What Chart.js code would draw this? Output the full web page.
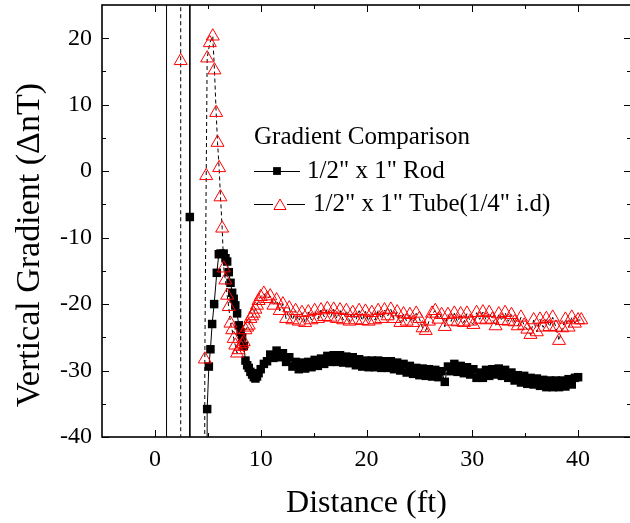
<!DOCTYPE html>
<html><head><meta charset="utf-8">
<script src="https://cdn.jsdelivr.net/npm/chart.js@4/dist/chart.umd.min.js"></script>
<style>
html,body{margin:0;padding:0;background:#fff;overflow:hidden;width:630px;height:523px}
#wrap{position:relative;width:640px;height:523px}
</style>
</head><body><div id="wrap"><canvas id="c" width="640" height="523"></canvas></div>
<script>
// ---- data ----
const legendTitle = 'Gradient Comparison';
const rodLabel = '1/2" x 1" Rod';
const tubeLabel = '1/2" x 1" Tube(1/4" i.d)';

const rodHeadDistance = [1.1, 1.1, 3.3, 3.3, 3.3, 4.9, 4.94, 5.1, 5.25, 5.41, 5.6, 5.85, 6.04, 6.2, 6.5, 6.67, 6.83, 6.98, 7.15, 7.3, 7.45, 7.6, 7.77, 7.93, 8.1, 8.24, 8.4, 8.56, 8.72, 8.87, 9.03, 9.19, 9.35, 9.5, 9.65, 9.8];
const rodHeadGradient = [-150, 150, 150, -6.9, -150, -150, -35.8, -29.4, -26.8, -23.0, -20.0, -15.3, -12.5, -12.4, -12.4, -13.1, -13.6, -15.2, -16.8, -18.3, -19.2, -20.2, -21.4, -23.2, -24.2, -25.0, -26.3, -28.5, -29.2, -29.6, -30.2, -30.6, -31.0, -31.2, -30.9, -30.4];

const tubeHeadDistance = [2.44, 2.44, 2.44, 4.62, 4.72, 4.85, 4.94, 5.19, 5.47, 5.63, 5.79, 5.92, 6.07, 6.2, 6.36, 6.51, 6.66, 6.83, 6.98, 7.14, 7.3, 7.45, 7.6, 7.77, 7.9, 8.1, 8.25, 8.4, 8.56, 8.72, 8.87, 9.03, 9.19, 9.34, 9.5, 9.65, 9.8];
const tubeHeadGradient = [150, 16.6, -150, -150, -28.3, -0.7, 17.0, 19.3, 20.3, 15.2, 8.8, 4.3, 0.5, -3.9, -8.6, -14.6, -16.4, -18.7, -20.4, -22.9, -23.9, -25.2, -26.2, -27.4, -26.9, -26.4, -26.0, -25.7, -23.9, -23.5, -23.2, -22.2, -21.8, -21.4, -20.8, -20.2, -19.5];

const tailDistance = [
 10.0,10.3,10.6,10.9,11.2,11.5,11.8,12.1,12.4,12.7,
 13.0,13.3,13.6,13.9,14.2,14.5,14.8,15.1,15.4,15.7,
 16.0,16.3,16.6,16.9,17.2,17.5,17.8,18.1,18.4,18.7,
 19.0,19.3,19.6,19.9,20.2,20.5,20.8,21.1,21.4,21.7,
 22.0,22.3,22.6,22.9,23.2,23.5,23.8,24.1,24.4,24.7,
 25.0,25.3,25.6,25.9,26.2,26.5,26.8,27.1,27.4,27.7,
 28.0,28.3,28.6,28.9,29.2,29.5,29.8,30.1,30.4,30.7,
 31.0,31.3,31.6,31.9,32.2,32.5,32.8,33.1,33.4,33.7,
 34.0,34.3,34.6,34.9,35.2,35.5,35.8,36.1,36.4,36.7,
 37.0,37.3,37.6,37.9,38.2,38.5,38.8,39.1,39.4,39.7,
 40.0];
const rodTailGradient = [
 -29.8,-29.0,-28.6,-27.6,-28.1,-27.0,-28.0,-27.4,-28.7,-28.0,
 -29.4,-28.7,-29.8,-28.8,-29.7,-28.7,-29.5,-28.4,-29.3,-28.2,
 -29.0,-27.8,-28.7,-27.7,-28.7,-27.7,-28.8,-27.9,-28.9,-28.0,
 -29.2,-28.3,-29.4,-28.5,-29.5,-28.5,-29.5,-28.5,-29.6,-28.6,
 -29.6,-28.6,-29.8,-28.8,-30.0,-29.0,-30.3,-29.3,-30.5,-29.6,
 -30.7,-29.7,-30.8,-29.8,-30.9,-29.9,-31.0,-30.1,-31.7,-29.4,
 -30.1,-29.0,-30.2,-29.3,-30.4,-29.5,-30.6,-29.8,-31.1,-30.3,
 -31.1,-29.9,-30.8,-29.8,-30.6,-29.7,-30.8,-29.9,-31.1,-30.3,
 -31.5,-30.7,-31.8,-30.8,-32.0,-31.1,-32.1,-31.2,-32.3,-31.4,
 -32.5,-31.5,-32.5,-31.5,-32.5,-31.5,-32.4,-31.3,-32.1,-31.1,
 -31.0];
const tubeTailGradient = [
 -18.9,-18.4,-19.2,-18.8,-20.2,-19.4,-21.0,-20.0,-22.2,-20.6,
 -22.4,-21.0,-22.6,-21.3,-22.8,-21.2,-22.4,-21.0,-22.2,-20.9,
 -21.9,-20.7,-22.0,-20.8,-22.2,-20.9,-22.4,-21.0,-22.6,-21.3,
 -22.4,-21.0,-22.5,-21.1,-22.6,-21.3,-22.4,-21.0,-22.2,-20.9,
 -21.8,-20.8,-22.2,-21.2,-22.8,-21.5,-22.6,-21.6,-22.8,-21.4,
 -22.2,-23.6,-24.0,-22.6,-21.4,-21.0,-22.3,-21.6,-23.4,-21.6,
 -22.6,-21.4,-22.7,-21.5,-22.8,-21.4,-22.6,-23.1,-21.3,-22.3,
 -21.2,-22.4,-21.3,-22.3,-23.3,-21.5,-22.5,-21.3,-22.6,-21.6,
 -22.7,-23.3,-22.0,-23.2,-23.8,-24.6,-22.4,-24.2,-22.3,-23.5,
 -22.2,-23.4,-22.0,-23.5,-25.5,-23.6,-22.3,-23.5,-22.0,-22.9,
 -22.4];
const tubeEndDistance = [40.3];
const tubeEndGradient = [-22.4];

const xTicks = [0, 10, 20, 30, 40];
const xMinorTicks = [5, 15, 25, 35];
const yTicks = [-40, -30, -20, -10, 0, 10, 20];
const yMinorTicks = [-35, -25, -15, -5, 5, 15];

// ---- build ----
const toPts = (xs, ys) => xs.map((x, i) => ({x: x, y: ys[i]}));
const rodPoints = toPts(rodHeadDistance, rodHeadGradient).concat(toPts(tailDistance, rodTailGradient));
const tubePoints = toPts(tubeHeadDistance, tubeHeadGradient).concat(toPts(tailDistance, tubeTailGradient), toPts(tubeEndDistance, tubeEndGradient));

const SERIF = '"Liberation Serif", "Times New Roman", serif';

const framePlugin = {
  id: 'frame',
  afterDatasetsDraw(chart) {
    const {ctx, chartArea: a, scales: {x, y}} = chart;
    ctx.save();
    ctx.strokeStyle = '#000';
    ctx.lineWidth = 1;
    ctx.beginPath();
    const major = 7, minor = 4;
    xTicks.forEach(v => { const p = Math.round(x.getPixelForValue(v)) + 0.5;
      ctx.moveTo(p, a.bottom); ctx.lineTo(p, a.bottom - major);
      ctx.moveTo(p, a.top); ctx.lineTo(p, a.top + major); });
    xMinorTicks.forEach(v => { const p = Math.round(x.getPixelForValue(v)) + 0.5;
      ctx.moveTo(p, a.bottom); ctx.lineTo(p, a.bottom - minor);
      ctx.moveTo(p, a.top); ctx.lineTo(p, a.top + minor); });
    yTicks.forEach(v => { const p = Math.round(y.getPixelForValue(v)) + 0.5;
      ctx.moveTo(a.left, p); ctx.lineTo(a.left + major, p);
      ctx.moveTo(a.right, p); ctx.lineTo(a.right - major, p); });
    yMinorTicks.forEach(v => { const p = Math.round(y.getPixelForValue(v)) + 0.5;
      ctx.moveTo(a.left, p); ctx.lineTo(a.left + minor, p);
      ctx.moveTo(a.right, p); ctx.lineTo(a.right - minor, p); });
    ctx.stroke();
    ctx.lineWidth = 1.6;
    ctx.strokeRect(a.left, a.top, a.right - a.left, a.bottom - a.top);
    ctx.restore();
  },
  afterDraw(chart) {
    const {ctx} = chart;
    ctx.save();
    ctx.fillStyle = '#000';
    ctx.font = '34px ' + SERIF;
    ctx.textAlign = 'center';
    ctx.textBaseline = 'middle';
    ctx.translate(30, 245);
    ctx.rotate(-Math.PI / 2);
    ctx.fillText('Vertical Gradient (\u0394nT)', 0, 0);
    ctx.restore();

    // legend
    ctx.save();
    ctx.font = '25px ' + SERIF;
    ctx.textAlign = 'left';
    ctx.textBaseline = 'middle';
    ctx.fillStyle = '#000';
    ctx.fillText(legendTitle, 254, 137);
    const ds = chart.data.datasets;
    const rows = [{d: ds[0], y: 171, x0: 254, x1: 300, xm: 277, xt: 307, r: 5.5},
                  {d: ds[1], y: 204, x0: 254, x1: 305, xm: 280, xt: 313, r: 7}];
    rows.forEach(r => {
      ctx.strokeStyle = '#000';
      ctx.lineWidth = 1;
      ctx.setLineDash([]);
      ctx.beginPath();
      ctx.moveTo(r.x0, r.y + 0.5); ctx.lineTo(r.x1, r.y + 0.5);
      ctx.stroke();
      ctx.fillStyle = r.d.pointBackgroundColor;
      ctx.strokeStyle = r.d.pointBorderColor;
      ctx.lineWidth = r.d.pointBorderWidth;
      if (r.d.pointStyle === 'triangle') {
        ctx.fillStyle = '#fff';
        ctx.fillRect(r.xm - 7, r.y - 6, 14, 12);
        ctx.fillStyle = r.d.pointBackgroundColor;
      }
      Chart.helpers.drawPoint(ctx, {
        pointStyle: r.d.pointStyle, radius: r.r, rotation: 0,
        borderWidth: r.d.pointBorderWidth
      }, r.xm, r.y + (r.d.pointStyle === 'triangle' ? 2 : 0));
      ctx.fillStyle = '#000';
      ctx.fillText(r.d.label, r.xt, r.y);
    });
    ctx.restore();
  }
};

new Chart(document.getElementById('c'), {
  type: 'scatter',
  data: {
    datasets: [
      {
        label: rodLabel, data: rodPoints, showLine: true,
        borderColor: '#000', borderWidth: 1, tension: 0,
        pointStyle: 'rect', pointRadius: 6, pointBorderWidth: 0,
        pointBackgroundColor: '#000', pointBorderColor: '#000', order: 2
      },
      {
        label: tubeLabel, data: tubePoints, showLine: true,
        borderColor: '#000', borderWidth: 1, borderDash: [4, 3], tension: 0,
        pointStyle: 'triangle', pointRadius: 7.5, pointBorderWidth: 1,
        pointBackgroundColor: 'rgba(0,0,0,0)', pointBorderColor: '#ff0000', order: 1
      }
    ]
  },
  options: {
    responsive: false, animation: false, devicePixelRatio: 1,
    layout: {autoPadding: false, padding: {top: 5, right: 9, left: 0, bottom: 0}},
    plugins: {legend: {display: false}, tooltip: {enabled: false}},
    scales: {
      x: {
        type: 'linear', min: -5, max: 45,
        afterBuildTicks: s => { s.ticks = xTicks.map(v => ({value: v})); },
        afterFit: s => { s.height = 86; s.paddingLeft = 0; s.paddingRight = 0; },
        grid: {display: false, drawTicks: false}, border: {display: false},
        ticks: {font: {family: SERIF, size: 24}, color: '#000', padding: 8, maxRotation: 0, autoSkip: false},
        title: {display: true, text: 'Distance (ft)', font: {family: SERIF, size: 32}, color: '#000', padding: {top: 0, bottom: 0}}
      },
      y: {
        type: 'linear', min: -40, max: 25,
        afterBuildTicks: s => { s.ticks = yTicks.map(v => ({value: v})); },
        afterFit: s => { s.width = 102; s.paddingTop = 0; s.paddingBottom = 0; },
        grid: {display: false, drawTicks: false}, border: {display: false},
        ticks: {font: {family: SERIF, size: 24}, color: '#000', padding: 10, autoSkip: false}
      }
    }
  },
  plugins: [framePlugin]
});
</script>
</body></html>
